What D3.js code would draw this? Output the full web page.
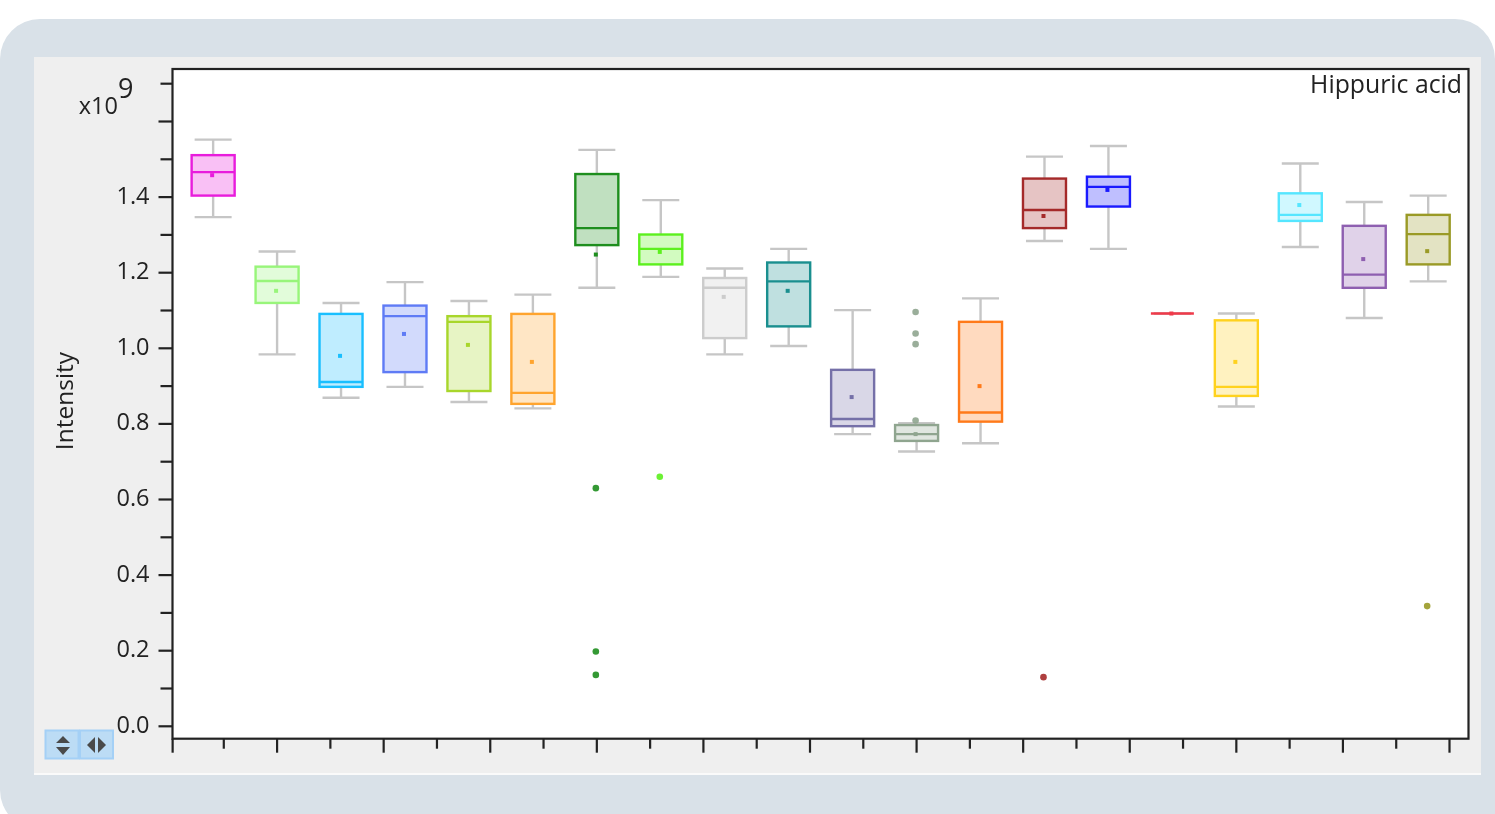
<!DOCTYPE html>
<html>
<head>
<meta charset="utf-8">
<script src="https://cdn.jsdelivr.net/npm/d3@7"></script>
<style>
	html, body { margin: 0; padding: 0; background: #fff; overflow: hidden; }
	svg { display: block; filter: blur(0.45px); }
	text { font-family: "Open Sans", sans-serif; fill: #222; }
</style>
</head>
<body>
<div id="chart"></div>
<script>

// Values are in units of 1e9
let boxPositions = [0.8, 2, 3.2, 4.4, 5.6, 6.8, 8, 9.2, 10.4, 11.6, 12.8, 14, 15.2, 16.4, 17.6, 18.8, 20, 21.2, 22.4, 23.6];
let whiskerHigh = [1.552, 1.256, 1.120, 1.175, 1.125, 1.142, 1.525, 1.392, 1.211, 1.263, 1.101, 0.802, 1.132, 1.507, 1.535, 1.092, 1.092, 1.489, 1.387, 1.404];
let quartileHigh = [1.511, 1.216, 1.091, 1.113, 1.085, 1.091, 1.461, 1.301, 1.186, 1.227, 0.943, 0.797, 1.070, 1.449, 1.454, 1.092, 1.074, 1.410, 1.324, 1.353];
let medians = [1.466, 1.178, 0.911, 1.085, 1.070, 0.882, 1.318, 1.263, 1.160, 1.177, 0.813, 0.773, 0.830, 1.366, 1.427, 1.092, 0.898, 1.353, 1.195, 1.302];
let quartileLow = [1.404, 1.120, 0.898, 0.937, 0.887, 0.853, 1.273, 1.222, 1.027, 1.058, 0.794, 0.755, 0.806, 1.318, 1.375, 1.092, 0.874, 1.337, 1.160, 1.222];
let whiskerLow = [1.347, 0.984, 0.869, 0.898, 0.858, 0.841, 1.160, 1.189, 0.984, 1.006, 0.773, 0.727, 0.749, 1.284, 1.263, 1.092, 0.846, 1.268, 1.080, 1.177];
let means = [1.458, 1.152, 0.980, 1.038, 1.009, 0.964, 1.248, 1.255, 1.136, 1.152, 0.871, 0.773, 0.900, 1.350, 1.419, 1.092, 0.964, 1.379, 1.236, 1.257];
let outliers = [[], [], [], [], [], [], [0.630, 0.198, 0.136], [0.660], [], [], [], [1.096, 1.039, 1.011, 0.809], [], [0.130], [], [], [], [], [], [0.318]];
let boxColors = ["#e81cdc", "#98f57a", "#19bfff", "#5f7bf5", "#a8d62b", "#ffa42e", "#1e8e1e", "#5cf01e", "#cccccc", "#1a8f8f", "#7570a8", "#8fa58f", "#ff7a1a", "#a52a2a", "#1a1aff", "#f03a4a", "#ffd21e", "#55e6ff", "#8e5fb0", "#9a9a26"];

let yMajorTicks = [0, 0.2, 0.4, 0.6, 0.8, 1.0, 1.2, 1.4, 1.6];
let yMinorTicks = [0.1, 0.3, 0.5, 0.7, 0.9, 1.1, 1.3, 1.5, 1.7];
// 0.04 is the long tick that sits on the corner of the frame
let xMajorTicks = [0.04, 2, 4, 6, 8, 10, 12, 14, 16, 18, 20, 22, 24];
let xMinorTicks = [1, 3, 5, 7, 9, 11, 13, 15, 17, 19, 21, 23];

let width = 1495;
let height = 814;

// plot frame
let frame = { left: 172.5, right: 1468.5, top: 69, bottom: 738.7 };

let xPositionScale = d3.scaleLinear()
	.domain([0, 24])
	.range([170.5, 1449.5]);

let yPositionScale = d3.scaleLinear()
	.domain([0, 1.7])
	.range([726.3, 83.7]);

let boxes = boxPositions.map((position, i) => ({
	position: position,
	high: whiskerHigh[i],
	q3: quartileHigh[i],
	median: medians[i],
	q1: quartileLow[i],
	low: whiskerLow[i],
	mean: means[i],
	outliers: outliers[i],
	color: boxColors[i]
}));

let svg = d3.select("#chart")
	.append("svg")
	.attr("width", width)
	.attr("height", height);

///////////////////////
/// Page background ///
///////////////////////

// rounded on three corners only, the bottom right one runs off the page
svg.append("path")
	.attr("d", "M0,59 A40,40 0 0 1 40,19 H1455 A40,40 0 0 1 1495,59 V830 H40 A40,40 0 0 1 0,790 Z")
	.attr("fill", "#d9e1e8");

svg.append("rect")
	.attr("x", 34)
	.attr("y", 57)
	.attr("width", 1447)
	.attr("height", 718)
	.attr("fill", "#fafafa");

svg.append("rect")
	.attr("x", 34)
	.attr("y", 57)
	.attr("width", 1447)
	.attr("height", 716)
	.attr("fill", "#efefef");

svg.append("rect")
	.attr("x", frame.left)
	.attr("y", frame.top)
	.attr("width", frame.right - frame.left)
	.attr("height", frame.bottom - frame.top)
	.attr("fill", "#fff");

////////////
/// Axes ///
////////////

function styleAxis(g) {
	g.select(".domain").remove();
	g.selectAll("line").attr("stroke", "#222").attr("stroke-width", 2.2);
	g.selectAll("text").attr("fill", "#222").attr("font-family", null);
}

let yMajor = d3.axisLeft(yPositionScale)
	.tickValues(yMajorTicks)
	.tickFormat(d => d > 1.5 ? "" : d3.format(".1f")(d))
	.tickSize(14)
	.tickPadding(9)
	.offset(0);

let yMinor = d3.axisLeft(yPositionScale)
	.tickValues(yMinorTicks)
	.tickFormat("")
	.tickSize(12)
	.offset(0);

svg.append("g")
	.attr("class", "axis y-axis")
	.attr("transform", `translate(${frame.left},0)`)
	.call(yMajor)
	.call(styleAxis)
	.selectAll("text")
	.attr("font-size", 23.5)
	.attr("dy", "0.28em");

svg.append("g")
	.attr("class", "axis y-axis-minor")
	.attr("transform", `translate(${frame.left},0)`)
	.call(yMinor)
	.call(styleAxis);

let xMajor = d3.axisBottom(xPositionScale)
	.tickValues(xMajorTicks)
	.tickFormat("")
	.tickSize(14)
	.offset(0);

let xMinor = d3.axisBottom(xPositionScale)
	.tickValues(xMinorTicks)
	.tickFormat("")
	.tickSize(10)
	.offset(0);

svg.append("g")
	.attr("class", "axis x-axis")
	.attr("transform", `translate(0,${frame.bottom})`)
	.call(xMajor)
	.call(styleAxis);

svg.append("g")
	.attr("class", "axis x-axis-minor")
	.attr("transform", `translate(0,${frame.bottom})`)
	.call(xMinor)
	.call(styleAxis);

svg.append("rect")
	.attr("x", frame.left)
	.attr("y", frame.top)
	.attr("width", frame.right - frame.left)
	.attr("height", frame.bottom - frame.top)
	.attr("fill", "none")
	.attr("stroke", "#222")
	.attr("stroke-width", 2.2);

/////////////
/// Boxes ///
/////////////

let boxHalfWidth = 21.5;
let capHalfWidth = 18.5;

let box = svg.selectAll(".box")
	.data(boxes)
	.join("g")
	.attr("class", "box")
	.attr("transform", d => `translate(${xPositionScale(d.position)},0)`);

// whisker stem and caps
box.append("line")
	.attr("y1", d => yPositionScale(d.high))
	.attr("y2", d => yPositionScale(d.low))
	.attr("stroke", "#c6c6c6")
	.attr("stroke-width", 2.4);

box.selectAll(".cap")
	.data(d => [d.high, d.low])
	.join("line")
	.attr("class", "cap")
	.attr("x1", -capHalfWidth)
	.attr("x2", capHalfWidth)
	.attr("y1", d => yPositionScale(d))
	.attr("y2", d => yPositionScale(d))
	.attr("stroke", "#c6c6c6")
	.attr("stroke-width", 2.4);

// white under the tinted box so the stem does not show through
box.append("rect")
	.attr("x", -boxHalfWidth)
	.attr("width", boxHalfWidth * 2)
	.attr("y", d => yPositionScale(d.q3))
	.attr("height", d => yPositionScale(d.q1) - yPositionScale(d.q3))
	.attr("fill", "#fff");

box.append("rect")
	.attr("x", -boxHalfWidth)
	.attr("width", boxHalfWidth * 2)
	.attr("y", d => yPositionScale(d.q3))
	.attr("height", d => yPositionScale(d.q1) - yPositionScale(d.q3))
	.attr("fill", d => d.color)
	.attr("fill-opacity", 0.28)
	.attr("stroke", d => d.color)
	.attr("stroke-width", 2.4);

box.append("line")
	.attr("x1", -boxHalfWidth)
	.attr("x2", boxHalfWidth)
	.attr("y1", d => yPositionScale(d.median))
	.attr("y2", d => yPositionScale(d.median))
	.attr("stroke", d => d.color)
	.attr("stroke-width", 2.4);

box.append("rect")
	.attr("x", -3)
	.attr("width", 4)
	.attr("y", d => yPositionScale(d.mean) - 2)
	.attr("height", 4)
	.attr("fill", d => d.color);

box.selectAll(".outlier")
	.data(d => d.outliers.map(value => ({ value: value, color: d.color })))
	.join("circle")
	.attr("class", "outlier")
	.attr("cx", -1)
	.attr("cy", d => yPositionScale(d.value))
	.attr("r", 3.3)
	.attr("fill", d => d.color)
	.attr("opacity", 0.9);

//////////////
/// Labels ///
//////////////

svg.append("text")
	.attr("x", 1462)
	.attr("y", 93)
	.attr("text-anchor", "end")
	.attr("font-size", 24.8)
	.text("Hippuric acid");

svg.append("text")
	.attr("x", 118)
	.attr("y", 114)
	.attr("text-anchor", "end")
	.attr("font-size", 23.5)
	.text("x10");

svg.append("text")
	.attr("x", 118)
	.attr("y", 98)
	.attr("font-size", 27)
	.text("9");

svg.append("text")
	.attr("transform", "translate(73,401) rotate(-90)")
	.attr("text-anchor", "middle")
	.attr("font-size", 24.5)
	.text("Intensity");

///////////////////////
/// Zoom buttons //////
///////////////////////

let buttons = svg.append("g").attr("class", "buttons");

buttons.selectAll("rect")
	.data([45.5, 80])
	.join("rect")
	.attr("x", d => d)
	.attr("y", 730.5)
	.attr("width", 33)
	.attr("height", 28)
	.attr("fill", "#bcdcf5")
	.attr("stroke", "#a4d0f6")
	.attr("stroke-width", 2);

buttons.append("path")
	.attr("d", "M63,736 L70,743 H56 Z M63,755 L70,747 H56 Z")
	.attr("fill", "#4a4a4a");

buttons.append("path")
	.attr("d", "M87,745 L95,737 V753 Z M106,745 L98,737 V753 Z")
	.attr("fill", "#4a4a4a");

</script>
</body>
</html>
